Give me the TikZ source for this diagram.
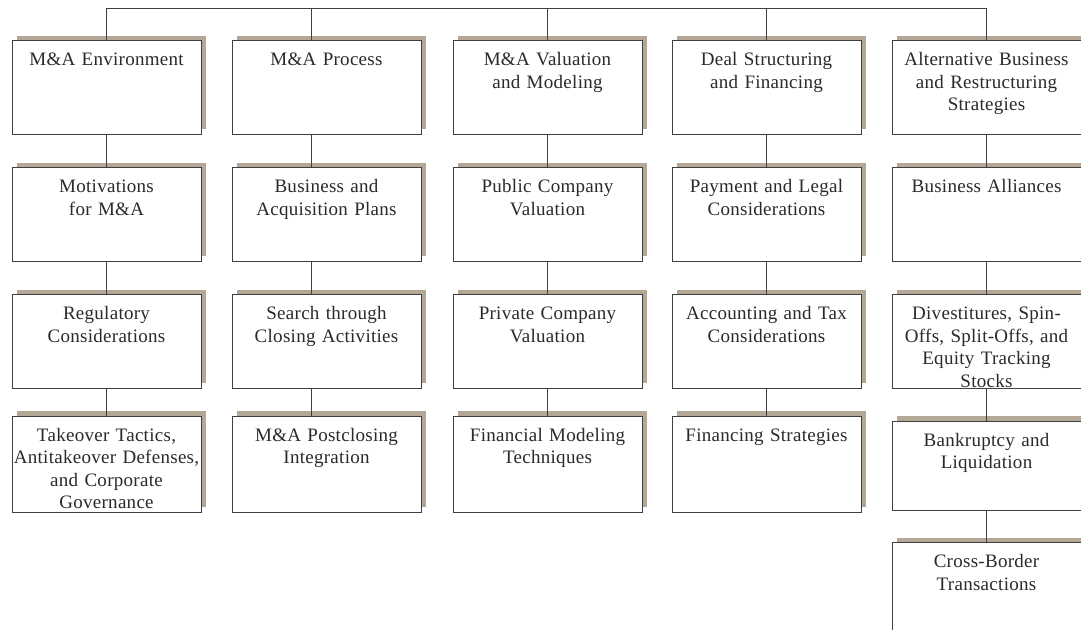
\documentclass[tikz,border=0pt]{standalone}
\usepackage{fontspec}
\setmainfont{Liberation Serif}[LetterSpace=1.5]
\usetikzlibrary{positioning,shadows}

\definecolor{boxline}{HTML}{3F3F3F}
\definecolor{textgray}{HTML}{2A2A2A}
\definecolor{shadowtan}{HTML}{B4A796}

\begin{document}
\begin{tikzpicture}[x=1pt, y=-1pt,
    card/.style={rectangle, draw=boxline, line width=1pt, fill=white, text=textgray,
      text width=187pt, align=center, inner xsep=1pt, inner ysep=0pt,
      text height=25pt, text depth=#1, font=\fontsize{19}{22.6}\selectfont,
      drop shadow={shadow xshift=5pt, shadow yshift=5pt, fill=shadowtan, opacity=1}},
    card/.default=68.5pt,
    link/.style={draw=boxline, line width=1pt}]

    \clip (0,0) rectangle (1081,629);

    %% top row
    \node[card, anchor=north] (env) at (106.5,40) {M\&A Environment};
    \node[card, anchor=north] (proc) at (326.5,40) {M\&A Process};
    \node[card, anchor=north] (val) at (547.5,40) {M\&A Valuation\\and Modeling};
    \node[card, anchor=north] (deal) at (766.5,40) {Deal Structuring\\and Financing};
    \node[card, anchor=north] (alt) at (986.5,40) {Alternative Business\\and Restructuring\\Strategies};

    %% environment column
    \node[card, below=32.5pt of env] (mot) {Motivations\\for M\&A};
    \node[card, below=32.5pt of mot] (reg) {Regulatory\\Considerations};
    \node[card=71pt, below=27pt of reg] (take) {Takeover Tactics,\\Antitakeover Defenses,\\and Corporate\\Governance};

    %% process column
    \node[card, below=32.5pt of proc] (plan) {Business and\\Acquisition Plans};
    \node[card, below=32.5pt of plan] (search) {Search through\\Closing Activities};
    \node[card=71pt, below=27pt of search] (post) {M\&A Postclosing\\Integration};

    %% valuation column
    \node[card, below=32.5pt of val] (pub) {Public Company\\Valuation};
    \node[card, below=32.5pt of pub] (priv) {Private Company\\Valuation};
    \node[card=71pt, below=27pt of priv] (model) {Financial Modeling\\Techniques};

    %% deal column
    \node[card, below=32.5pt of deal] (pay) {Payment and Legal\\Considerations};
    \node[card, below=32.5pt of pay] (acct) {Accounting and Tax\\Considerations};
    \node[card=71pt, below=27pt of acct] (fin) {Financing Strategies};

    %% alternatives column
    \node[card, below=32.5pt of alt] (ally) {Business Alliances};
    \node[card, below=32.5pt of ally] (div) {Divestitures, Spin-\\Offs, Split-Offs, and\\Equity Tracking\\Stocks};
    \node[card=64pt, below=32pt of div] (bank) {Bankruptcy and\\Liquidation};
    \node[card=75pt, below=31.5pt of bank] (cross) {Cross-Border\\Transactions};

    %% connectors
    \coordinate (bar) at (0,8);
    \coordinate (procx) at ([xshift=-15.5pt]proc.north);
    \draw[link] (env.north |- bar) -- (alt.north |- bar);
    \foreach \n in {env,val,deal,alt}
        \draw[link] (\n.north |- bar) -- (\n.north);
    \draw[link] (procx |- bar) -- (procx);

    \foreach \a/\b in {env/mot, mot/reg, reg/take, val/pub, pub/priv, priv/model,
                       deal/pay, pay/acct, acct/fin, alt/ally, ally/div, div/bank, bank/cross}
        \draw[link] (\a.south) -- (\b.north);
    \foreach \a/\b in {proc/plan, plan/search, search/post}
        \draw[link] (procx |- \a.south) -- (procx |- \b.north);

\end{tikzpicture}
\end{document}
